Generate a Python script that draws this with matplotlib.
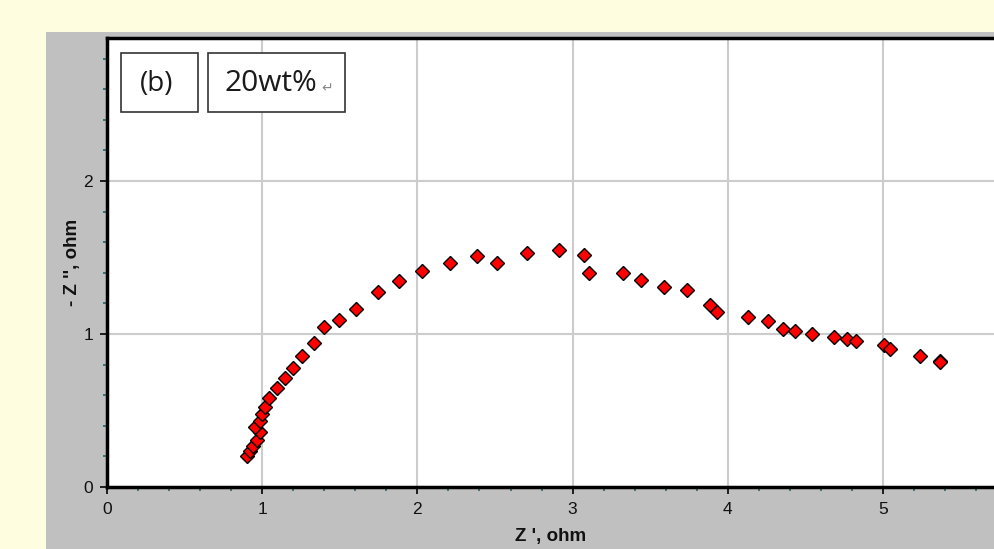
import matplotlib
matplotlib.use("Agg")
import matplotlib.pyplot as plt
from matplotlib.patches import Rectangle
from matplotlib.ticker import MultipleLocator

# Data
z_real = [0.90, 0.92, 0.943, 0.965, 0.987, 0.955, 0.983, 1.00, 1.02, 1.043, 1.095,
          1.148, 1.198, 1.255, 1.331, 1.40, 1.492, 1.606, 1.744, 1.884, 2.03,
          2.213, 2.387, 2.512, 2.708, 2.912, 3.073, 3.107, 3.325, 3.44, 3.587,
          3.735, 3.886, 3.933, 4.127, 4.26, 4.357, 4.434, 4.54, 4.686, 4.77,
          4.828, 5.006, 5.043, 5.237, 5.366, 5.366]
z_imag = [0.20, 0.235, 0.27, 0.31, 0.36, 0.39, 0.43, 0.48, 0.525, 0.58, 0.647,
          0.714, 0.778, 0.858, 0.943, 1.044, 1.089, 1.165, 1.277, 1.344, 1.41,
          1.464, 1.508, 1.464, 1.529, 1.551, 1.518, 1.397, 1.399, 1.353, 1.307,
          1.288, 1.187, 1.142, 1.111, 1.087, 1.033, 1.022, 1.00, 0.978, 0.967,
          0.956, 0.926, 0.90, 0.856, 0.826, 0.816]
x_ticks = [0, 1, 2, 3, 4, 5]
y_ticks = [0, 1, 2]
x_label = "Z ', ohm"
y_label = "- Z '', ohm"
tag_label = "(b)"
sample_label = "20wt%"

W, H = 994, 549
fig = plt.figure(figsize=(W / 100, H / 100), dpi=100)
fig.patch.set_facecolor("#FFFDE0")

# grey panel as a background axes
bg = fig.add_axes([46 / W, 0, 1 - 46 / W, (H - 32) / H], zorder=-5)
bg.set_facecolor("#C0C0C0")
bg.set_xticks([])
bg.set_yticks([])
for s in bg.spines.values():
    s.set_visible(False)

px_x = 155.2
px_y = 153.0
left, bottom_px, top_px = 107, 487, 38
ax = fig.add_axes([left / W, (H - bottom_px) / H, 1 - left / W, (bottom_px - top_px) / H],
                  zorder=1)
ax.set_xlim(0, (W - left) / px_x)
ax.set_ylim(0, (bottom_px - top_px) / px_y)
ax.set_facecolor("white")

ax.plot(z_real, z_imag, linestyle="none", marker="D", markersize=7,
        markerfacecolor="#FF0000", markeredgecolor="black", markeredgewidth=1.0,
        zorder=3)

ax.set_xticks(x_ticks)
ax.set_yticks(y_ticks)
ax.xaxis.set_minor_locator(MultipleLocator(0.2))
ax.yaxis.set_minor_locator(MultipleLocator(0.2))
ax.grid(True, which="major", color="#CCCCCC", linewidth=1.5, zorder=1)
ax.set_axisbelow(True)

for s in ["left", "top", "bottom"]:
    ax.spines[s].set_linewidth(2.5)
    ax.spines[s].set_color("black")
ax.spines["right"].set_visible(False)

ax.tick_params(which="major", direction="out", length=5, width=1.2, color="black",
               labelsize=12.5, labelcolor="#111111")
ax.tick_params(axis="x", which="major", pad=6)
ax.tick_params(axis="y", which="major", pad=5)
ax.tick_params(which="minor", direction="out", length=3, width=1.3, color="#2F6F6F")
for lab in ax.get_xticklabels() + ax.get_yticklabels():
    lab.set_fontfamily("Liberation Sans")

ax.set_xlabel(x_label, fontsize=13.5, fontweight="bold", family="Liberation Sans",
              labelpad=8, color="#111111")
ax.set_ylabel(y_label, fontsize=13.5, fontweight="bold", family="Liberation Sans",
              labelpad=1.5, color="#111111")

# annotation boxes (figure pixel coords)
def box(x0, y0, x1, y1):
    fig.patches.append(Rectangle((x0 / W, (H - y1) / H), (x1 - x0) / W, (y1 - y0) / H,
                                 transform=fig.transFigure, facecolor="white",
                                 edgecolor="#333333", linewidth=1.2, zorder=5))

box(121, 53, 198, 112)
box(208, 53, 345, 112)
fig.text(157 / W, (H - 84) / H, tag_label, ha="center", va="center", fontsize=20,
         family="Open Sans", color="#1a1a1a", zorder=6)
fig.text(225 / W, (H - 84) / H, sample_label, ha="left", va="center", fontsize=21.5,
         family="Open Sans", color="#1a1a1a", zorder=6)
fig.text(321 / W, (H - 88) / H, "\u21b5", ha="left", va="center", fontsize=10,
         family="DejaVu Sans", color="#888888", zorder=6)

fig.savefig("out.png", dpi=100, facecolor=fig.get_facecolor())
